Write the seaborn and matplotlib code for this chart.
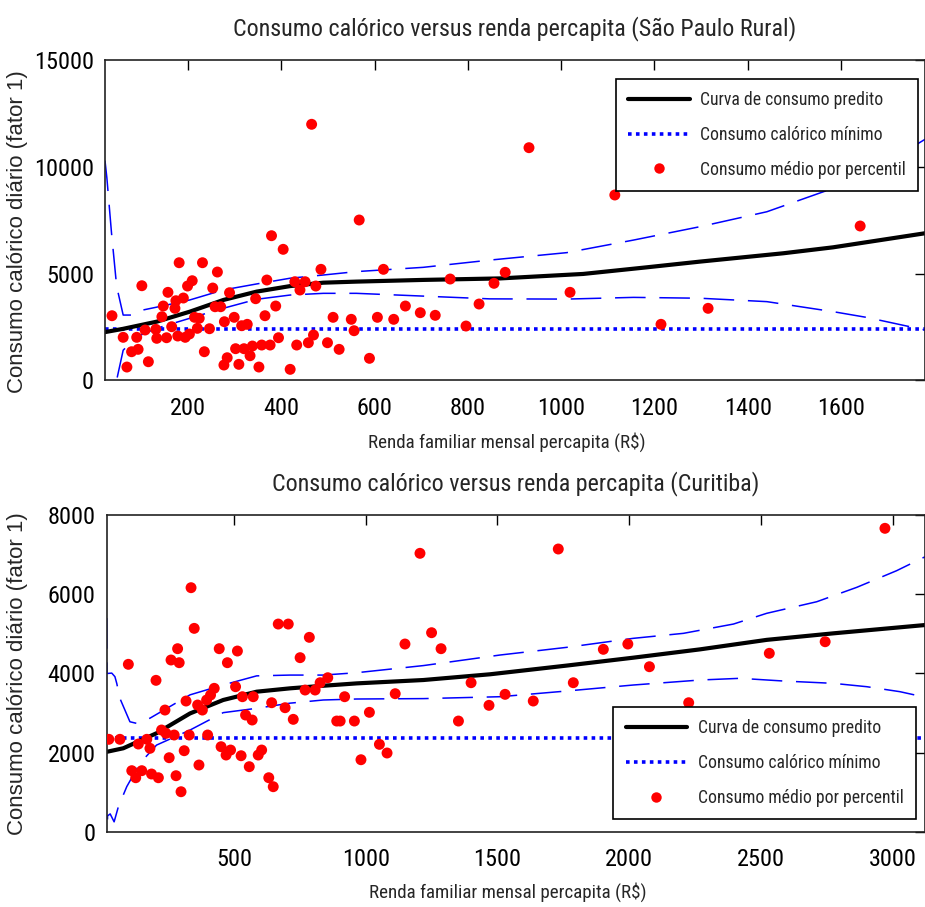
import matplotlib
matplotlib.use("Agg")
import matplotlib.pyplot as plt
from matplotlib.lines import Line2D
import seaborn as sns

# --- São Paulo Rural ---
sp_pts_x = [465, 567, 379, 404, 181, 231, 263, 485, 619, 209, 199, 101, 253, 157, 369, 429,
            440, 451, 474, 762, 856, 880, 289, 190, 174, 147, 172, 258, 270, 345, 388, 37,
            144, 214, 224, 299, 365, 511, 550, 606, 641, 666, 698, 730, 824, 796, 556, 278,
            315, 327, 246, 165, 108, 131, 61, 90, 133, 154, 178, 194, 203, 220, 394, 469,
            458, 499, 433, 358, 376, 338, 302, 320, 333, 524, 79, 93, 235, 115, 69, 277,
            284, 309, 352, 419, 589, 931, 1115, 1641, 1019, 1315, 1214]
sp_pts_y = [12005, 7512, 6775, 6136, 5507, 5507, 5070, 5197, 5197, 4662, 4413, 4427, 4319, 4117, 4695, 4615,
            4226, 4615, 4413, 4742, 4540, 5056, 4099, 3850, 3723, 3474, 3366, 3441, 3441, 3817, 3474, 3019,
            2972, 2944, 2897, 2944, 3019, 2944, 2850, 2944, 2850, 3474, 3160, 3038, 3568, 2535, 2315, 2737,
            2550, 2615, 2409, 2503, 2348, 2380, 2005, 2005, 1958, 1986, 2066, 2005, 2160, 2427, 1986, 2113,
            1751, 1751, 1643, 1643, 1643, 1596, 1471, 1471, 1141, 1441, 1329, 1441, 1329, 859, 610, 704,
            1047, 737, 610, 502, 1019, 10907, 8686, 7230, 4117, 3366, 2615]

sp_fit_x = [22, 60, 133, 204, 276, 347, 419, 490, 561, 704, 869, 1047, 1183, 1298, 1476, 1583, 1780]
sp_fit_y = [2250, 2400, 2740, 3210, 3760, 4150, 4410, 4570, 4620, 4700, 4770, 4980, 5290, 5560, 5950, 6230, 6890]

sp_up_x = [22, 26, 36, 47, 61, 83, 104, 150, 204, 276, 347, 419, 490, 561, 704, 847, 1012, 1155, 1298, 1441, 1583, 1655, 1780]
sp_up_y = [10300, 9500, 6900, 4400, 3050, 3050, 3290, 3500, 3760, 4230, 4510, 4780, 4930, 5090, 5290, 5630, 5980, 6570, 7200, 7900, 9000, 9630, 11300]

sp_lo_x = [22, 40, 47, 61, 90, 133, 204, 276, 347, 419, 490, 561, 704, 847, 1012, 1155, 1298, 1441, 1583, 1655, 1780]
sp_lo_y = [-4000, -800, 0, 1400, 2030, 2430, 2900, 3370, 3790, 3990, 4070, 4070, 3940, 3810, 3800, 3880, 3840, 3680, 3210, 2940, 2350]

sp_min = 2380
sp_xlim = (22, 1780)
sp_xticks = [200, 400, 600, 800, 1000, 1200, 1400, 1600]
sp_yticks = [0, 5000, 10000, 15000]

# --- Curitiba ---
cu_pts_x = [1206, 337, 349, 668, 706, 786, 1149, 1250, 1286, 286, 261, 292, 444, 513, 475, 99,
            751, 204, 506, 532, 573, 770, 808, 827, 856, 920, 1112, 1400, 1529, 1468, 643, 694,
            725, 890, 903, 957, 1014, 1352, 318, 238, 362, 380, 396, 411, 425, 544, 569, 225,
            242, 273, 330, 400, 25, 67, 169, 137, 181, 451, 487, 470, 527, 605, 592, 311,
            254, 1052, 1081, 982, 558, 367, 112, 127, 150, 187, 213, 280, 632, 649, 299,
            2971, 1731, 1902, 1995, 2077, 2744, 2532, 1788, 1636, 2226]
cu_pts_y = [7038, 6169, 5141, 5250, 5250, 4914, 4745, 5031, 4627, 4627, 4341, 4273, 4627, 4568, 4273, 4232,
            4400, 3827, 3666, 3413, 3413, 3582, 3582, 3767, 3893, 3413, 3489, 3767, 3473, 3195, 3261, 3135,
            2841, 2798, 2798, 2798, 3018, 2798, 3304, 3076, 3203, 3076, 3329, 3456, 3625, 2950, 2824, 2571,
            2487, 2445, 2445, 2445, 2336, 2336, 2336, 2217, 2108, 2149, 2065, 1939, 1921, 2065, 1939, 2048,
            1871, 2209, 1990, 1820, 1644, 1686, 1543, 1365, 1543, 1459, 1365, 1416, 1365, 1138, 1011,
            7670, 7147, 4611, 4745, 4171, 4803, 4510, 3767, 3304, 3261]

cu_fit_x = [17, 80, 206, 333, 459, 586, 713, 839, 966, 1219, 1472, 1763, 2016, 2269, 2522, 2775, 3123]
cu_fit_y = [2020, 2110, 2490, 2990, 3330, 3540, 3625, 3690, 3750, 3835, 3980, 4200, 4400, 4610, 4850, 5015, 5225]

cu_up_x = [17, 18, 36, 48, 55, 67, 105, 130, 181, 333, 459, 586, 713, 839, 966, 1219, 1510, 1763, 2016,
           2206, 2396, 2522, 2712, 2864, 3015, 3123]
cu_up_y = [5400, 4000, 4010, 3920, 3750, 3370, 2780, 2740, 2870, 3460, 3710, 3940, 3960, 3960, 4020, 4200, 4467, 4661, 4889,
           5015, 5250, 5521, 5814, 6178, 6598, 6950]

cu_lo_x = [17, 20, 30, 45, 61, 93, 143, 206, 333, 459, 586, 713, 839, 966, 1219, 1510, 1763, 2016, 2269,
           2421, 2585, 2775, 2902, 3028, 3123]
cu_lo_y = [-2000, 400, 450, 250, 630, 1140, 1730, 2190, 2570, 3010, 3120, 3250, 3330, 3355, 3365, 3413, 3557, 3709, 3835,
           3878, 3810, 3751, 3666, 3540, 3400]

cu_min = 2360
cu_xlim = (17, 3123)
cu_xticks = [500, 1000, 1500, 2000, 2500, 3000]
cu_yticks = [0, 2000, 4000, 6000, 8000]

titles = ["Consumo calórico versus renda percapita (São Paulo Rural)",
          "Consumo calórico versus renda percapita (Curitiba)"]
xlabel = "Renda familiar mensal percapita (R$)"
ylabel = "Consumo calórico diário (fator 1)"
legend_labels = ["Curva de consumo predito", "Consumo calórico mínimo", "Consumo médio por percentil"]

sns.set_style("white")
NARROW = ["Roboto Condensed", "DejaVu Sans Condensed", "Liberation Sans Narrow", "Liberation Sans"]
plt.rcParams["font.family"] = NARROW

BLUE = "#0000ff"
RED = "#ff0000"

fig = plt.figure(figsize=(9.25, 9.07), dpi=100)
ax1 = fig.add_axes([0.1135, 0.581, 0.8865, 0.3523])
ax2 = fig.add_axes([0.1154, 0.083, 0.8846, 0.3489])


def draw(ax, px, py, fx, fy, ux, uy, lx, ly, ymin, xlim, ylim, xticks, yticks, title,
         leg_anchor, leg_loc, xlab_pos, ylab_pos):
    sns.lineplot(x=ux, y=uy, ax=ax, color=BLUE, lw=1.1, sort=False,
                 linestyle=(0, (20, 9)), estimator=None)
    sns.lineplot(x=lx, y=ly, ax=ax, color=BLUE, lw=1.1, sort=False,
                 linestyle=(0, (20, 9)), estimator=None)
    ax.axhline(ymin, color=BLUE, lw=2.6, linestyle=(0, (1, 1.2)))
    sns.lineplot(x=fx, y=fy, ax=ax, color="black", lw=3.0, sort=False, estimator=None)
    sns.scatterplot(x=px, y=py, ax=ax, color=RED, s=62, edgecolor="none", zorder=5)
    ax.set_xlim(*xlim)
    ax.set_ylim(*ylim)
    ax.set_xticks(xticks)
    ax.set_yticks(yticks)
    ax.tick_params(direction="in", length=7, width=1, top=True, right=True,
                   labelsize=17.5, colors="black")
    ax.tick_params(axis="x", pad=12)
    ax.tick_params(axis="y", pad=8)
    for s in ax.spines.values():
        s.set_visible(True)
        s.set_color("#222222")
        s.set_linewidth(1.2)
    ax.set_title(title, fontsize=17.3, pad=18)
    ax.set_xlabel(xlabel, fontsize=13.7)
    ax.xaxis.set_label_coords(*xlab_pos)
    ax.set_ylabel(ylabel, fontsize=16, family=["Liberation Sans", "DejaVu Sans"])
    ax.yaxis.set_label_coords(*ylab_pos)
    handles = [Line2D([], [], color="black", lw=3.0),
               Line2D([], [], color=BLUE, lw=2.6, linestyle=(0, (1, 1.2))),
               Line2D([], [], color=RED, marker="o", ls="none", markersize=7.5, markeredgecolor="none")]
    leg = ax.legend(handles, legend_labels, loc=leg_loc, bbox_to_anchor=leg_anchor, fontsize=12.7,
                    frameon=True, fancybox=False, edgecolor="black", framealpha=1, borderaxespad=0,
                    handlelength=3.5, borderpad=0.7, labelspacing=0.95, handletextpad=0.6)
    leg.get_frame().set_linewidth(1.2)


draw(ax1, sp_pts_x, sp_pts_y, sp_fit_x, sp_fit_y, sp_up_x, sp_up_y, sp_lo_x, sp_lo_y, sp_min,
     sp_xlim, (0, 15000), sp_xticks, sp_yticks, titles[0], (0.992, 0.943), "upper right",
     (0.49, -0.163), (-0.094, 0.463))
draw(ax2, cu_pts_x, cu_pts_y, cu_fit_x, cu_fit_y, cu_up_x, cu_up_y, cu_lo_x, cu_lo_y, cu_min,
     cu_xlim, (0, 8000), cu_xticks, cu_yticks, titles[1], (0.989, 0.040), "lower right",
     (0.49, -0.159), (-0.096, 0.5))

fig.savefig("out.png", dpi=100)
